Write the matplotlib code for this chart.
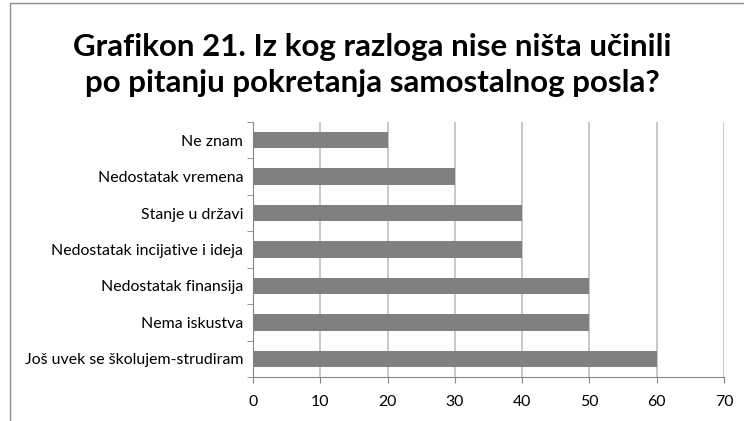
import matplotlib.pyplot as plt
from matplotlib.patches import Rectangle
from matplotlib.ticker import FixedLocator

categories = ["Još uvek se školujem-strudiram", "Nema iskustva",
              "Nedostatak finansija", "Nedostatak incijative i ideja",
              "Stanje u državi", "Nedostatak vremena", "Ne znam"]
values = [60, 50, 50, 40, 40, 30, 20]
xticks = [0, 10, 20, 30, 40, 50, 60, 70]

title = ("Grafikon 21. Iz kog razloga nise ništa učinili\n"
         "po pitanju pokretanja samostalnog posla?")

plt.rcParams['font.family'] = ['Lato', 'DejaVu Sans']

fig = plt.figure(figsize=(7.44, 4.21), dpi=100)
W, H = 744, 421
ax = fig.add_axes([253 / W, 1 - 377 / H, (724 - 253) / W, (377 - 122) / H])

# chart border (cropped at right and bottom)
fig.patches.append(Rectangle((10 / W, -0.1), 1.2, 1 - 3 / H + 0.1,
                             transform=fig.transFigure, fill=False,
                             edgecolor='#8c8c8c', linewidth=1.0))

ypos = range(len(categories))
ax.barh(ypos, values, height=0.45, color='#808080', zorder=3)

ax.set_xlim(0, 70)
ax.set_ylim(-0.5, len(categories) - 0.5)
ax.set_xticks(xticks)
ax.set_xticklabels([str(v) for v in xticks], fontsize=11.4)
ax.set_yticks(list(ypos))
ax.set_yticklabels(categories, fontsize=11.4)
ax.yaxis.set_minor_locator(FixedLocator([i - 0.5 for i in range(len(categories) + 1)]))
ax.tick_params(axis='y', which='major', length=0, pad=7)
ax.tick_params(axis='y', which='minor', length=4, color='#868686')
ax.tick_params(axis='x', length=4, color='#868686', pad=9)

ax.grid(axis='x', color='#bfbfbf', linewidth=1.2, zorder=0)
ax.set_axisbelow(True)
for loc in ['top', 'right']:
    ax.spines[loc].set_visible(False)
for loc in ['left', 'bottom']:
    ax.spines[loc].set_color('#868686')

fig.text(0.5, 1 - 65 / H, title, ha='center', va='center',
         fontsize=22.5, fontweight='bold', linespacing=1.32)

fig.savefig('out.png', dpi=100)
